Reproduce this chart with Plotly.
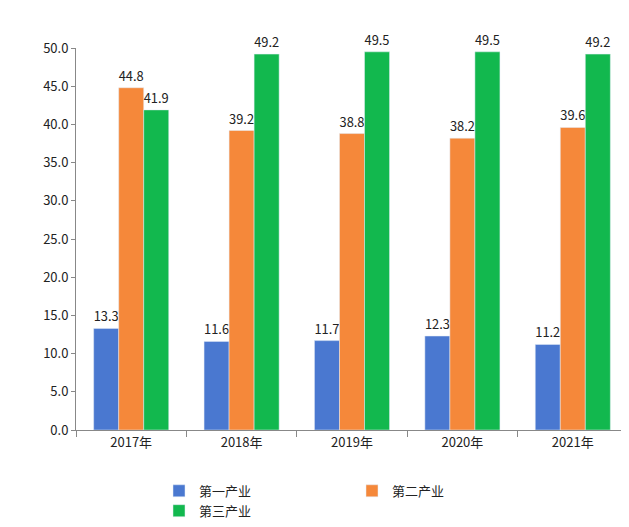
import plotly.graph_objects as go

years = ["2017年", "2018年", "2019年", "2020年", "2021年"]
primary = [13.3, 11.6, 11.7, 12.3, 11.2]
secondary = [44.8, 39.2, 38.8, 38.2, 39.6]
tertiary = [41.9, 49.2, 49.5, 49.5, 49.2]

series = [("第一产业", primary, "#4A78D0"),
          ("第二产业", secondary, "#F5883A"),
          ("第三产业", tertiary, "#12B84E")]

fig = go.Figure()
for name, vals, color in series:
    fig.add_trace(go.Bar(x=years, y=vals, name=name, marker_color=color,
                         text=[f"{v:.1f}" for v in vals], textposition="outside",
                         textfont=dict(size=13, color="#222")))

fig.update_layout(
    width=629, height=527, paper_bgcolor="white", plot_bgcolor="white",
    margin=dict(l=68, r=9, t=40, b=86),
    barmode="group", bargap=0.32, bargroupgap=0,
    font=dict(family="Noto Sans CJK SC, DejaVu Sans", size=13, color="#222"),
    legend=dict(orientation="h", x=0.5, xanchor="center", y=-0.12, yanchor="top",
                font=dict(size=13), entrywidth=148, traceorder="normal"),
)
fig.update_yaxes(range=[0, 50], dtick=5, tickformat=".1f", showgrid=False,
                 showline=True, linecolor="#888", ticks="outside", ticklen=4,
                 tickcolor="#888", zeroline=False)
fig.update_xaxes(showline=True, linecolor="#888", ticks="outside",
                 tickson="boundaries", ticklen=6, tickcolor="#888")
for tr in fig.data:
    tr.cliponaxis = False

fig.write_html("out.html")
